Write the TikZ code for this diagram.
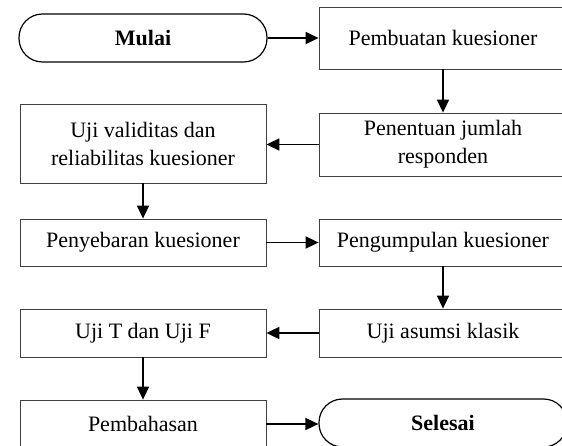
\documentclass[tikz,border=0pt]{standalone}
\usepackage{fontspec}
\setmainfont{Liberation Serif}
\usetikzlibrary{arrows.meta}
\begin{document}
\begin{tikzpicture}[x=1pt,y=-1pt,
  box/.style={draw=black!75, line width=0.8pt, rectangle, inner sep=0pt, align=center,
    font=\fontsize{22}{28}\selectfont},
  term/.style={draw=black, line width=1.2pt, rectangle, rounded corners=23.5pt, inner sep=0pt,
    minimum height=48pt, font=\fontsize{22}{28}\selectfont\bfseries},
  flow/.style={line width=1.6pt, -{Triangle[length=13pt,width=12pt]}}]
\clip (0,0) rectangle (562,446);
\useasboundingbox (0,0) rectangle (562,446);
% left column: x 20..266 (center 143), right column: x 319..567 (center 443)
\node[term, minimum width=248pt] (mulai) at (143,38) {Mulai};
\node[box, minimum width=248pt, minimum height=62pt] (buat) at (443,38) {Pembuatan kuesioner};
\node[box, minimum width=248pt, minimum height=63pt] (tentu) at (443,144.5) {Penentuan jumlah\\responden};
\node[box, minimum width=246pt, minimum height=79pt] (valid) at (143,143.5) {Uji validitas dan\\reliabilitas kuesioner};
\node[box, minimum width=246pt, minimum height=47pt] (sebar) at (143,242.5) {Penyebaran kuesioner};
\node[box, minimum width=248pt, minimum height=47pt] (kumpul) at (443,242.5) {Pengumpulan kuesioner};
\node[box, minimum width=248pt, minimum height=48pt] (asumsi) at (443,333) {Uji asumsi klasik};
\node[box, minimum width=246pt, minimum height=48pt] (ujitf) at (143,333) {Uji T dan Uji F};
\node[box, minimum width=246pt, minimum height=48pt] (bahas) at (143,424) {Pembahasan};
\node[term, minimum width=248pt] (selesai) at (443,423) {Selesai};
\draw[flow] (mulai) -- (buat);
\draw[flow] (buat) -- (tentu);
\draw[flow] (tentu.west) -- (valid.east |- tentu.west);
\draw[flow] (valid) -- (sebar);
\draw[flow] (sebar) -- (kumpul);
\draw[flow] (kumpul) -- (asumsi);
\draw[flow] (asumsi) -- (ujitf);
\draw[flow] (ujitf) -- (bahas);
\draw[flow] (bahas.east) -- (selesai.west |- bahas.east);
\end{tikzpicture}
\end{document}
